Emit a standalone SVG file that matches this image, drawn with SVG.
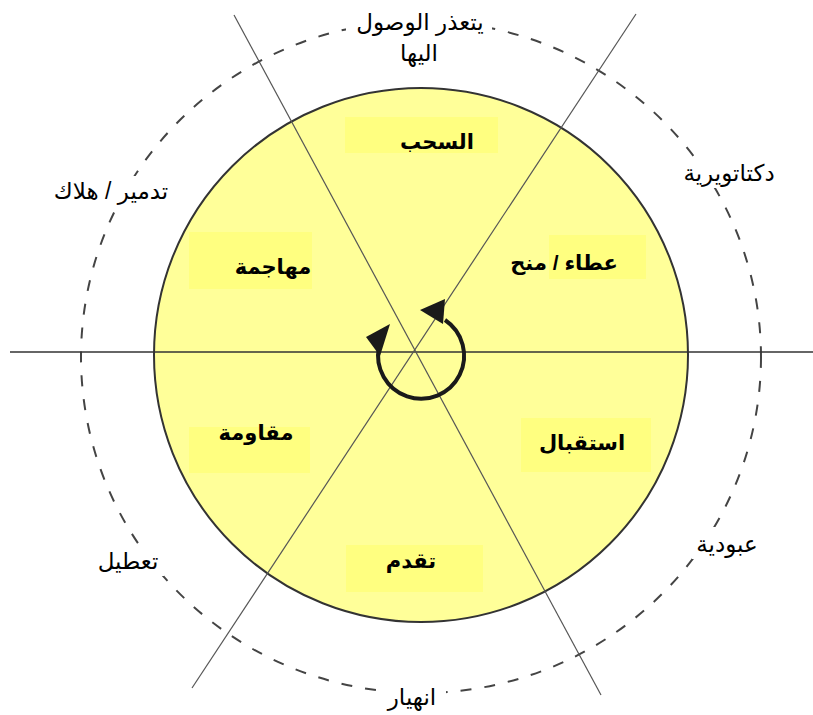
<svg xmlns="http://www.w3.org/2000/svg" width="813" height="715" viewBox="0 0 813 715">
<defs>
<style>
.outer{font-family:"Liberation Sans","DejaVu Sans",sans-serif;font-size:23px;fill:#000;text-anchor:middle}
.inner{font-family:"Liberation Sans","DejaVu Sans",sans-serif;font-size:21px;font-weight:bold;fill:#000;text-anchor:middle}
.lbg{fill:#ffff80}
.wbg{fill:#fff}
.axis{stroke:#555;stroke-width:1.2;fill:none}
.haxis{stroke:#333;stroke-width:1.7;fill:none}
</style>
</defs>
<rect width="813" height="715" fill="#fff"/>
<g id="outer-ring">
<ellipse cx="421" cy="357" rx="340" ry="336" fill="none" stroke="#444" stroke-width="2" stroke-dasharray="11 13"/>
</g>
<g id="wheel">
<circle cx="421" cy="355" r="267" fill="#ffff99" stroke="#333" stroke-width="2"/>
</g>
<g id="connectors">
<line class="haxis" x1="10" y1="352" x2="813" y2="352"/>
<line class="axis" x1="234" y1="15" x2="601" y2="695"/>
<line class="axis" x1="636" y1="14" x2="192" y2="688"/>
</g>
<g id="cycle-arrow">
<path d="M 379 347 A 43 43 0 1 0 445 320" fill="none" stroke="#1a1a1a" stroke-width="4"/>
<polygon points="366,337 390,324 380,356" fill="#1a1a1a"/>
<polygon points="420,310 445,299 443,324" fill="#1a1a1a"/>
</g>
<g id="node-sahb">
<rect class="lbg" x="345" y="117" width="153" height="36"/>
<text class="inner" x="437" y="149">السحب</text>
</g>
<g id="node-ataa">
<rect class="lbg" x="549" y="235" width="97" height="44"/>
<text class="inner" x="564" y="270">عطاء / منح</text>
</g>
<g id="node-muhajama">
<rect class="lbg" x="189" y="232" width="123" height="57"/>
<text class="inner" x="273" y="274">مهاجمة</text>
</g>
<g id="node-muqawama">
<rect class="lbg" x="189" y="427" width="121" height="46"/>
<text class="inner" x="256" y="440">مقاومة</text>
</g>
<g id="node-istiqbal">
<rect class="lbg" x="521" y="418" width="130" height="54"/>
<text class="inner" x="582" y="450">استقبال</text>
</g>
<g id="node-taqaddum">
<rect class="lbg" x="346" y="545" width="137" height="47"/>
<text class="inner" x="411" y="568">تقدم</text>
</g>
<g id="label-top">
<rect class="wbg" x="346" y="4" width="146" height="66"/>
<text class="outer" x="420" y="30" font-size="24">يتعذر الوصول</text>
<text class="outer" x="419" y="61" font-size="24">اليها</text>
</g>
<g id="label-dictatorship">
<rect class="wbg" x="676" y="158" width="106" height="30"/>
<text class="outer" x="729" y="181">دكتاتويرية</text>
</g>
<g id="label-destruction">
<rect class="wbg" x="46" y="176" width="130" height="30"/>
<text class="outer" x="111" y="199">تدمير / هلاك</text>
</g>
<g id="label-disruption">
<rect class="wbg" x="94" y="544" width="70" height="32"/>
<text class="outer" x="128" y="569">تعطيل</text>
</g>
<g id="label-slavery">
<rect class="wbg" x="692" y="527" width="71" height="32"/>
<text class="outer" x="727" y="552">عبودية</text>
</g>
<g id="label-collapse">
<rect class="wbg" x="378" y="682" width="68" height="32"/>
<text class="outer" x="412" y="705">انهيار</text>
</g>
</svg>
